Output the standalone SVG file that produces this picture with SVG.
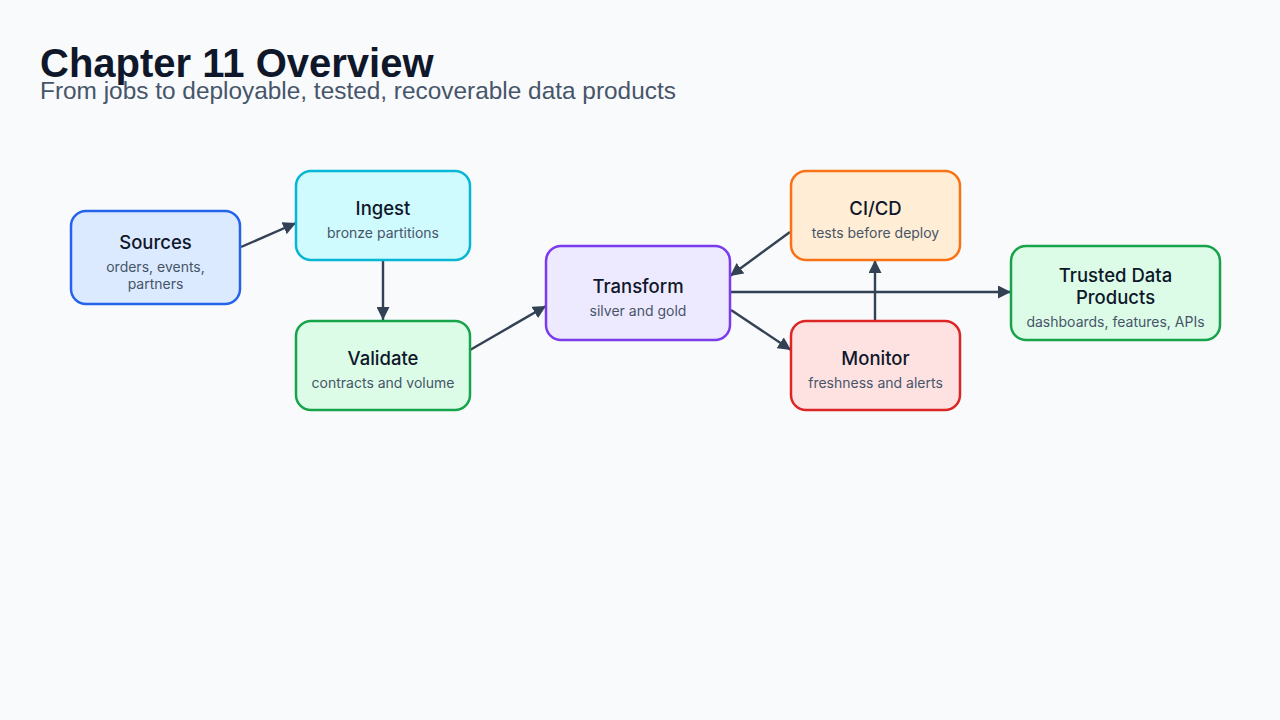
<svg xmlns="http://www.w3.org/2000/svg" width="1280" height="720" viewBox="0 0 1280 720">
<style>
.title{font-family:"Liberation Sans",Arial,sans-serif;font-size:40px;font-weight:bold;fill:#0f172a}
.subtitle{font-family:"Liberation Sans",Arial,sans-serif;font-size:24.4px;fill:#475569}
.box{stroke-width:2.5}
.nt{font-family:Inter,"Noto Sans",sans-serif;font-size:18.5px;font-weight:500;fill:#0f172a;text-anchor:middle}
.ns{font-family:Inter,"Noto Sans",sans-serif;font-size:14px;fill:#475569;text-anchor:middle}
.edge{stroke:#334155;stroke-width:2.4;fill:none;marker-end:url(#arr)}
</style>
<defs>
<marker id="arr" viewBox="0 0 12 12" refX="12" refY="6" markerWidth="13" markerHeight="13" markerUnits="userSpaceOnUse" orient="auto">
<path d="M0,0 L12,6 L0,12 z" fill="#334155"/>
</marker>
</defs>
<rect width="1280" height="720" fill="#f8fafc"/>
<text class="title" x="40" y="77">Chapter 11 Overview</text>
<text class="subtitle" x="40" y="99">From jobs to deployable, tested, recoverable data products</text>
<g id="connectors">
<line class="edge" x1="241" y1="247" x2="296" y2="223"/>
<line class="edge" x1="383" y1="261" x2="383" y2="320"/>
<line class="edge" x1="470" y1="350" x2="546" y2="306"/>
<line class="edge" x1="790" y1="232" x2="730" y2="276"/>
<line class="edge" x1="731" y1="292" x2="1011" y2="292"/>
<line class="edge" x1="731" y1="310" x2="791" y2="350"/>
<line class="edge" x1="875" y1="321" x2="875" y2="260"/>
</g>
<g id="sources">
<rect class="box" x="71" y="211" width="169" height="93" rx="15" fill="#dbeafe" stroke="#2563eb"/>
<text class="nt" x="155.5" y="249">Sources</text>
<text class="ns" x="155.5" y="272">orders, events,</text>
<text class="ns" x="155.5" y="289">partners</text>
</g>
<g id="ingest">
<rect class="box" x="296" y="171" width="174" height="89" rx="15" fill="#cffafe" stroke="#06b6d4"/>
<text class="nt" x="383" y="215">Ingest</text>
<text class="ns" x="383" y="238">bronze partitions</text>
</g>
<g id="validate">
<rect class="box" x="296" y="321" width="174" height="89" rx="15" fill="#dcfce7" stroke="#16a34a"/>
<text class="nt" x="383" y="365">Validate</text>
<text class="ns" x="383" y="388">contracts and volume</text>
</g>
<g id="transform">
<rect class="box" x="546" y="246" width="184" height="94" rx="15" fill="#ede9fe" stroke="#7c3aed"/>
<text class="nt" x="638" y="293">Transform</text>
<text class="ns" x="638" y="316">silver and gold</text>
</g>
<g id="cicd">
<rect class="box" x="791" y="171" width="169" height="89" rx="15" fill="#ffedd5" stroke="#f97316"/>
<text class="nt" x="875.5" y="215">CI/CD</text>
<text class="ns" x="875.5" y="238">tests before deploy</text>
</g>
<g id="monitor">
<rect class="box" x="791" y="321" width="169" height="89" rx="15" fill="#fee2e2" stroke="#dc2626"/>
<text class="nt" x="875.5" y="365">Monitor</text>
<text class="ns" x="875.5" y="388">freshness and alerts</text>
</g>
<g id="trusted">
<rect class="box" x="1011" y="246" width="209" height="94" rx="15" fill="#dcfce7" stroke="#16a34a"/>
<text class="nt" x="1115.5" y="282">Trusted Data</text>
<text class="nt" x="1115.5" y="304">Products</text>
<text class="ns" x="1115.5" y="327">dashboards, features, APIs</text>
</g>
</svg>
